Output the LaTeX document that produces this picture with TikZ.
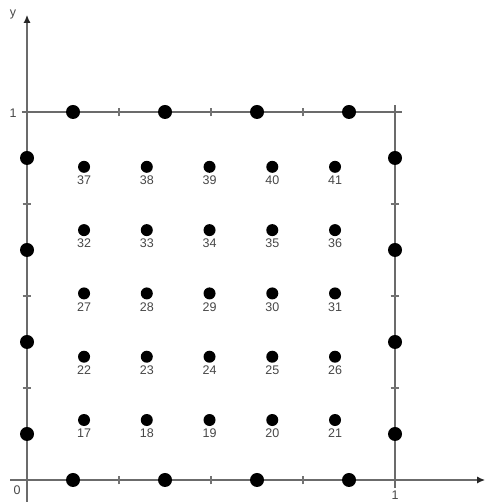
\documentclass[tikz,border=0pt]{standalone}
\usepackage{fontspec}
\setmainfont{Liberation Sans}
\usetikzlibrary{arrows.meta,positioning}

\begin{document}
\begin{tikzpicture}[x=368pt,y=368pt,>={Latex[length=8pt,width=7pt,color=black!85]},
  axis/.style={draw=black!58,line width=1.5pt},
  tick/.style={draw=black!55,line width=1.1pt},
  bdot/.style={circle,fill=black,inner sep=0pt,minimum size=14pt},
  idot/.style={circle,fill=black,inner sep=0pt,minimum size=12pt},
  num/.style={text=black!72,inner sep=0pt,font=\fontsize{12.5}{13}\selectfont}]
\useasboundingbox (-0.0734,-0.0598) rectangle (1.2554,1.3043);
% axes and unit square
\coordinate (xs) at (-0.046,0); \coordinate (xe) at (1.245,0);
\coordinate (ys) at (0,-0.06); \coordinate (ye) at (0,1.264);
\coordinate (ts) at (-0.014,1); \coordinate (te) at (1.019,1);
\coordinate (rs) at (1,-0.022); \coordinate (re) at (1,1.019);
\draw[axis,->] (xs)--(xe);
\draw[axis,->] (ys)--(ye);
\draw[axis] (ts)--(te);
\draw[axis] (rs)--(re);
\foreach \t in {0.25,0.5,0.75} {
  \draw[tick] (\t,-0.012)--(\t,0.012);
  \draw[tick] (\t,0.988)--(\t,1.012);
  \draw[tick] (-0.012,\t)--(0.012,\t);
  \draw[tick] (0.988,\t)--(1.012,\t);
}
\node[num] (ylab) at (-0.038,1.266) {y};
\node[num] (one-y) at (-0.038,0.997) {1};
\node[num] (zero) at (-0.027,-0.027) {0};
\node[num] (one-x) at (1.0,-0.04) {1};
% boundary points
\foreach \k [count=\i] in {0.125,0.375,0.625,0.875} {
  \node[bdot] (bot\i) at (\k,0) {};
  \node[bdot] (top\i) at (\k,1) {};
  \node[bdot] (lft\i) at (0,\k) {};
  \node[bdot] (rgt\i) at (1,\k) {};
}
% interior points
\foreach \j in {0,...,4} {
  \foreach \i in {0,...,4} {
    \pgfmathtruncatemacro{\n}{17+5*\j+\i}
    \node[idot] (d\n) at ({0.155+0.1705*\i},{0.163+0.172*\j}) {};
    \node[num,below=2.5pt of d\n] (l\n) {\n};
  }
}
\end{tikzpicture}
\end{document}
